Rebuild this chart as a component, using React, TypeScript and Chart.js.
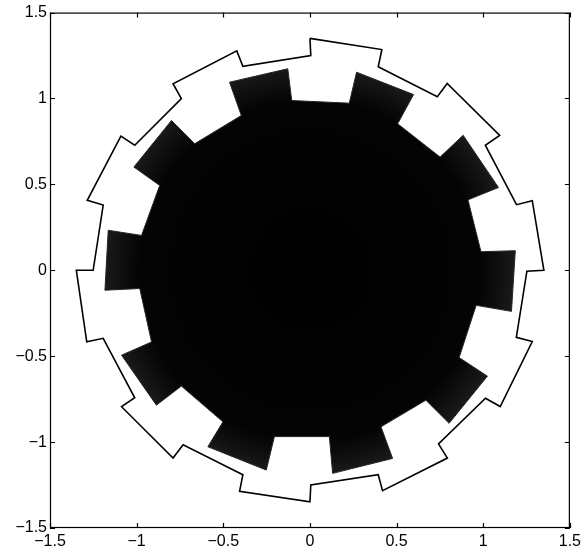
import React, { useEffect, useRef } from 'react';
import { Chart, registerables } from 'chart.js';

Chart.register(...registerables);

// Outer ratchet outline (closed polygon)
const outlineX = [0.0, 0.415, 0.394, 0.735, 0.792, 1.095, 1.012, 1.192, 1.283, 1.35, 1.252, 1.191, 1.283, 1.098, 1.013, 0.742, 0.793, 0.419, 0.394, 0.005, 0.0, -0.406, -0.387, -0.732, -0.79, -1.087, -1.011, -1.193, -1.288, -1.348, -1.251, -1.193, -1.285, -1.091, -1.011, -0.742, -0.79, -0.422, -0.387, 0.005, 0.0];
const outlineY = [1.35, 1.285, 1.185, 1.01, 1.087, 0.785, 0.728, 0.382, 0.405, 0.0, -0.005, -0.39, -0.415, -0.793, -0.745, -1.01, -1.093, -1.283, -1.19, -1.25, -1.347, -1.287, -1.19, -1.015, -1.093, -0.794, -0.742, -0.396, -0.416, 0.0, 0.0, 0.38, 0.407, 0.781, 0.728, 1.0, 1.086, 1.277, 1.187, 1.25, 1.35];

// Dark filled gear (closed polygon)
const gearX = [0.227, 0.269, 0.598, 0.506, 0.751, 0.884, 1.088, 0.912, 0.987, 1.185, 1.163, 0.959, 0.861, 1.024, 0.803, 0.669, 0.41, 0.477, 0.131, 0.112, -0.205, -0.252, -0.589, -0.502, -0.742, -0.886, -1.087, -0.914, -0.982, -1.183, -1.164, -0.972, -0.867, -1.016, -0.799, -0.665, -0.396, -0.464, -0.128, -0.105, 0.227];
const gearY = [0.973, 1.153, 1.023, 0.853, 0.659, 0.786, 0.482, 0.41, 0.108, 0.114, -0.239, -0.204, -0.508, -0.616, -0.891, -0.756, -0.911, -1.095, -1.182, -0.968, -0.968, -1.163, -1.027, -0.882, -0.674, -0.785, -0.494, -0.417, -0.106, -0.116, 0.233, 0.203, 0.494, 0.601, 0.872, 0.737, 0.901, 1.095, 1.173, 0.988, 0.973];

const axisMin = -1.5;
const axisMax = 1.5;
const tickStep = 0.5;

const FONT = '"Liberation Sans", Arial, Helvetica, sans-serif';

function fmt(v: number): string {
  const s = String(Math.round(Math.abs(v) * 10) / 10);
  return v < 0 ? '\u2212' + s : s;
}

const framePlugin = {
  id: 'frame',
  afterDatasetsDraw(chart: any) {
    const { ctx, chartArea: a, scales } = chart;
    ctx.save();
    ctx.strokeStyle = '#000';
    ctx.lineWidth = 1.2;
    ctx.strokeRect(a.left + 0.5, a.top + 0.5, a.right - a.left - 1, a.bottom - a.top - 1);
    const len = 5;
    ctx.beginPath();
    scales.x.ticks.forEach((t: any) => {
      const px = Math.round(scales.x.getPixelForValue(t.value)) + 0.5;
      ctx.moveTo(px, a.bottom);
      ctx.lineTo(px, a.bottom - len);
      ctx.moveTo(px, a.top);
      ctx.lineTo(px, a.top + len);
    });
    scales.y.ticks.forEach((t: any) => {
      const py = Math.round(scales.y.getPixelForValue(t.value)) + 0.5;
      ctx.moveTo(a.left, py);
      ctx.lineTo(a.left + len, py);
      ctx.moveTo(a.right, py);
      ctx.lineTo(a.right - len, py);
    });
    ctx.stroke();
    ctx.restore();
  },
};

export default function App() {
  const ref = useRef<HTMLCanvasElement>(null);

  useEffect(() => {
    if (!ref.current) return;
    const gearFill = (c: any) => {
      const chart = c.chart;
      const { chartArea, scales } = chart;
      if (!chartArea) return '#050505';
      const cx = scales.x.getPixelForValue(0);
      const cy = scales.y.getPixelForValue(0);
      const r = scales.x.getPixelForValue(1.2) - cx;
      const g = chart.ctx.createRadialGradient(cx, cy, 0, cx, cy, r);
      g.addColorStop(0, '#000000');
      g.addColorStop(0.82, '#040404');
      g.addColorStop(0.9, '#0e0e0e');
      g.addColorStop(1, '#1c1c1c');
      return g;
    };
    const tickFont = { family: FONT, size: 16 };
    const chart = new Chart(ref.current, {
      type: 'scatter',
      data: {
        datasets: [
          {
            data: gearX.map((x, i) => ({ x, y: gearY[i] })),
            showLine: true,
            fill: 'shape',
            backgroundColor: gearFill,
            borderColor: '#262626',
            borderWidth: 1,
            pointRadius: 0,
            tension: 0,
          } as any,
          {
            data: outlineX.map((x, i) => ({ x, y: outlineY[i] })),
            showLine: true,
            fill: false,
            borderColor: '#000',
            borderWidth: 1.6,
            pointRadius: 0,
            tension: 0,
          } as any,
        ],
      },
      options: {
        animation: false,
        responsive: false,
        events: [],
        layout: { padding: { top: 12, right: 14, left: 0, bottom: 0 } },
        plugins: { legend: { display: false }, tooltip: { enabled: false } },
        scales: {
          x: {
            type: 'linear',
            min: axisMin,
            max: axisMax,
            grid: { display: false, drawTicks: false },
            border: { display: false },
            afterFit: (s: any) => { s.height = 24; },
            ticks: {
              stepSize: tickStep,
              padding: 4,
              color: '#000',
              font: tickFont,
              maxRotation: 0,
              autoSkip: false,
              callback: (v: any) => fmt(Number(v)),
            },
          },
          y: {
            type: 'linear',
            min: axisMin,
            max: axisMax,
            grid: { display: false, drawTicks: false },
            border: { display: false },
            afterFit: (s: any) => { s.width = 50; },
            ticks: {
              stepSize: tickStep,
              padding: 3,
              color: '#000',
              font: tickFont,
              autoSkip: false,
              callback: (v: any) => fmt(Number(v)),
            },
          },
        },
      },
      plugins: [framePlugin],
    } as any);
    return () => chart.destroy();
  }, []);

  return (
    <div style={{ position: 'fixed', left: 0, top: 0, width: 585, height: 552, background: '#fff' }}>
      <canvas ref={ref} width={585} height={552} style={{ display: 'block', width: 585, height: 552 }} />
    </div>
  );
}
